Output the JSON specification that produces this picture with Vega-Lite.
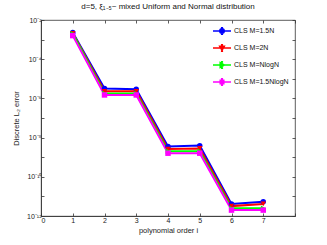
{
  "$schema": "https://vega.github.io/schema/vega-lite/v6.json",
  "width": 254,
  "height": 196,
  "autosize": "none",
  "padding": {"left": 41, "top": 20, "right": 32, "bottom": 29},
  "background": "white",
  "config": {
    "font": "Liberation Sans",
    "view": {"stroke": "#333333", "strokeWidth": 0.8},
    "axis": {"grid": false, "domainColor": "#333333", "tickColor": "#333333", "labelColor": "#222222", "titleColor": "#222222", "labelFontSize": 7, "titleFontSize": 7.5, "titleFontWeight": "normal", "tickSize": -3, "domainWidth": 0.8, "tickWidth": 0.8}
  },
  "title": {"text": "d=5, ξ₁₋₅~ mixed Uniform and Normal distribution", "fontSize": 8, "fontWeight": "normal", "color": "#111111", "offset": 5, "anchor": "middle", "font": "Liberation Sans"},
  "data": {"values": [
    {"order": 1, "err": 2.3e-3, "s": "CLS M=1.5N"},
    {"order": 2, "err": 3.2e-6, "s": "CLS M=1.5N"},
    {"order": 3, "err": 2.9e-6, "s": "CLS M=1.5N"},
    {"order": 4, "err": 3.5e-9, "s": "CLS M=1.5N"},
    {"order": 5, "err": 3.9e-9, "s": "CLS M=1.5N"},
    {"order": 6, "err": 4.1e-12, "s": "CLS M=1.5N"},
    {"order": 7, "err": 5.4e-12, "s": "CLS M=1.5N"},
    {"order": 1, "err": 2.1e-3, "s": "CLS M=2N"},
    {"order": 2, "err": 2.3e-6, "s": "CLS M=2N"},
    {"order": 3, "err": 2.3e-6, "s": "CLS M=2N"},
    {"order": 4, "err": 2.6e-9, "s": "CLS M=2N"},
    {"order": 5, "err": 2.8e-9, "s": "CLS M=2N"},
    {"order": 6, "err": 3.2e-12, "s": "CLS M=2N"},
    {"order": 7, "err": 4.1e-12, "s": "CLS M=2N"},
    {"order": 1, "err": 2.0e-3, "s": "CLS M=NlogN"},
    {"order": 2, "err": 1.8e-6, "s": "CLS M=NlogN"},
    {"order": 3, "err": 1.8e-6, "s": "CLS M=NlogN"},
    {"order": 4, "err": 2.0e-9, "s": "CLS M=NlogN"},
    {"order": 5, "err": 2.0e-9, "s": "CLS M=NlogN"},
    {"order": 6, "err": 2.5e-12, "s": "CLS M=NlogN"},
    {"order": 7, "err": 2.5e-12, "s": "CLS M=NlogN"},
    {"order": 1, "err": 1.6e-3, "s": "CLS M=1.5NlogN"},
    {"order": 2, "err": 1.5e-6, "s": "CLS M=1.5NlogN"},
    {"order": 3, "err": 1.5e-6, "s": "CLS M=1.5NlogN"},
    {"order": 4, "err": 1.6e-9, "s": "CLS M=1.5NlogN"},
    {"order": 5, "err": 1.6e-9, "s": "CLS M=1.5NlogN"},
    {"order": 6, "err": 2.0e-12, "s": "CLS M=1.5NlogN"},
    {"order": 7, "err": 2.0e-12, "s": "CLS M=1.5NlogN"}
  ]},
  "resolve": {"axis": {"x": "independent", "y": "independent"}},
  "layer": [
    {
      "mark": {"type": "line", "strokeWidth": 2},
      "encoding": {
        "x": {"field": "order", "type": "quantitative", "scale": {"domain": [0, 8], "nice": false, "zero": false},
          "axis": {"title": "polynomial order i", "values": [0, 1, 2, 3, 4, 5, 6, 7, 8], "labelExpr": "datum.value == 8 ? '' : datum.label", "format": "d", "labelPadding": 3, "titleFontSize": 7.5, "titlePadding": 3, "labelColor": "#222222", "titleColor": "#222222"}},
        "y": {"field": "err", "type": "quantitative", "scale": {"type": "log", "domain": [1e-12, 1e-2], "nice": false},
          "axis": {"title": "Discrete L₂ error", "values": [1e-12, 1e-11, 1e-10, 1e-9, 1e-8, 1e-7, 1e-6, 1e-5, 1e-4, 1e-3, 1e-2],
            "labelExpr": "{'-12':'10⁻¹²','-10':'10⁻¹⁰','-8':'10⁻⁸','-6':'10⁻⁶','-4':'10⁻⁴','-2':'10⁻²'}['' + round(log(datum.value)/LN10)] || ''",
            "labelPadding": 3, "titlePadding": 6, "labelColor": "#222222", "titleColor": "#222222"}},
        "color": {"field": "s", "type": "nominal",
          "scale": {"domain": ["CLS M=1.5N", "CLS M=2N", "CLS M=NlogN", "CLS M=1.5NlogN"], "range": ["#0000ff", "#ff0000", "#00ff00", "#ff00ff"]},
          "legend": {"title": null, "orient": "none", "legendX": 171, "legendY": 1, "padding": 0, "labelFontSize": 7, "labelColor": "#111111", "symbolSize": 324, "symbolStrokeWidth": 1.5, "rowPadding": 0, "labelOffset": 2, "symbolOpacity": 1,
            "encode": {"symbols": {"update": {
              "shape": {"signal": "datum.value == 'CLS M=1.5N' ? 'M-1,0H1M0,-0.35V0.35M-0.12,-0.35H0.12M-0.12,0.35H0.12M-0.25,0A0.25,0.25 0 1,0 0.25,0A0.25,0.25 0 1,0 -0.25,0Z' : datum.value == 'CLS M=2N' ? 'M-1,0H1M0,-0.35V0.35M-0.12,-0.35H0.12M-0.12,0.35H0.12M-0.26,-0.2L0.26,-0.2L0,0.26Z' : datum.value == 'CLS M=NlogN' ? 'M-1,0H1M0,-0.35V0.35M-0.12,-0.35H0.12M-0.12,0.35H0.12M-0.2,-0.26L0.26,0L-0.2,0.26Z' : 'M-1,0H1M0,-0.35V0.35M-0.12,-0.35H0.12M-0.12,0.35H0.12M-0.2,-0.2L0.2,-0.2L0.2,0.2L-0.2,0.2Z'"},
              "fill": {"scale": "color", "field": "value"},
              "stroke": {"scale": "color", "field": "value"},
              "strokeWidth": {"value": 1.5},
              "size": {"value": 324}
            }}}}}
      }
    },
    {
      "transform": [{"filter": "datum.s == 'CLS M=1.5N'"}],
      "mark": {"type": "point", "filled": true, "size": 30, "opacity": 1, "shape": "circle"},
      "encoding": {
        "x": {"field": "order", "type": "quantitative", "axis": {"orient": "top", "title": null, "labels": false, "values": [0, 1, 2, 3, 4, 5, 6, 7, 8], "domain": false}},
        "y": {"field": "err", "type": "quantitative", "axis": {"orient": "right", "title": null, "labels": false, "values": [1e-12, 1e-11, 1e-10, 1e-9, 1e-8, 1e-7, 1e-6, 1e-5, 1e-4, 1e-3, 1e-2], "domain": false}},
        "color": {"field": "s", "type": "nominal", "legend": null}
      }
    },
    {
      "transform": [{"filter": "datum.s == 'CLS M=2N'"}],
      "mark": {"type": "point", "filled": true, "size": 30, "opacity": 1, "shape": "triangle-down"},
      "encoding": {
        "x": {"field": "order", "type": "quantitative", "axis": null},
        "y": {"field": "err", "type": "quantitative", "axis": null},
        "color": {"field": "s", "type": "nominal", "legend": null}
      }
    },
    {
      "transform": [{"filter": "datum.s == 'CLS M=NlogN'"}],
      "mark": {"type": "point", "filled": true, "size": 30, "opacity": 1, "shape": "triangle-right"},
      "encoding": {
        "x": {"field": "order", "type": "quantitative", "axis": null},
        "y": {"field": "err", "type": "quantitative", "axis": null},
        "color": {"field": "s", "type": "nominal", "legend": null}
      }
    },
    {
      "transform": [{"filter": "datum.s == 'CLS M=1.5NlogN'"}],
      "mark": {"type": "point", "filled": true, "size": 30, "opacity": 1, "shape": "square"},
      "encoding": {
        "x": {"field": "order", "type": "quantitative", "axis": null},
        "y": {"field": "err", "type": "quantitative", "axis": null},
        "color": {"field": "s", "type": "nominal", "legend": null}
      }
    }
  ]
}
